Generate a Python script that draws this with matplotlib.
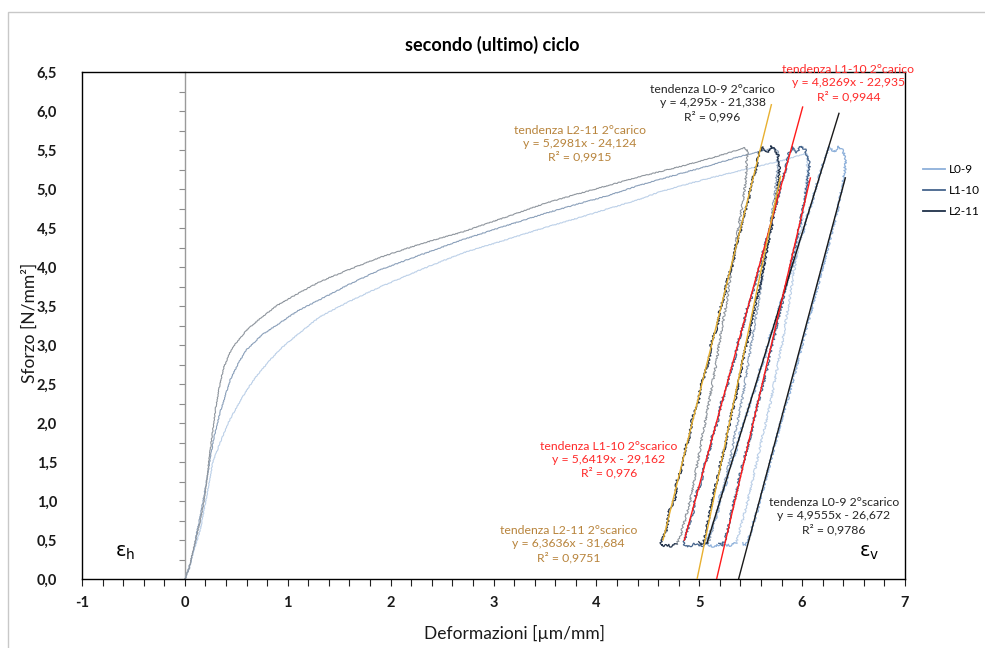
import numpy as np
import matplotlib
matplotlib.use("Agg")
import matplotlib.pyplot as plt
from matplotlib.ticker import MultipleLocator, FuncFormatter
from matplotlib.patches import Rectangle
from matplotlib.lines import Line2D

plt.rcParams['font.family'] = ['Lato', 'DejaVu Sans']
plt.rcParams['mathtext.fontset'] = 'dejavusans'

# ---------------- data ----------------
specimens = ["L0-9", "L1-10", "L2-11"]

# first loading (monotonic branch)
l2_load_x = [0.00, 0.03, 0.06, 0.09, 0.12, 0.15, 0.18, 0.21, 0.24, 0.27, 0.30, 0.34, 0.38, 0.44,
             0.50, 0.60, 0.75, 0.90, 1.10, 1.31, 1.60, 1.89, 2.30, 2.70, 3.10, 3.51, 3.80, 4.10,
             4.40, 4.61, 4.85, 5.10, 5.30, 5.44]
l2_load_y = [0.00, 0.10, 0.25, 0.42, 0.58, 0.75, 0.95, 1.25, 1.58, 1.90, 2.20, 2.50, 2.72, 2.91,
             3.03, 3.19, 3.36, 3.51, 3.66, 3.81, 3.97, 4.12, 4.30, 4.45, 4.63, 4.82, 4.93, 5.04,
             5.15, 5.22, 5.30, 5.39, 5.47, 5.53]
l1_load_x = [0.00, 0.04, 0.08, 0.12, 0.16, 0.20, 0.24, 0.28, 0.34, 0.44, 0.52, 0.60, 0.75, 0.92,
             1.10, 1.31, 1.60, 1.89, 2.30, 2.70, 3.10, 3.51, 3.80, 4.10, 4.40, 4.61, 4.85, 5.10,
             5.35, 5.55, 5.72]
l1_load_y = [0.00, 0.12, 0.35, 0.62, 0.88, 1.18, 1.49, 1.80, 2.13, 2.55, 2.77, 2.94, 3.13, 3.28,
             3.44, 3.58, 3.78, 3.96, 4.16, 4.35, 4.52, 4.69, 4.80, 4.91, 5.04, 5.12, 5.21, 5.30,
             5.40, 5.47, 5.52]
l0_load_x = [0.00, 0.05, 0.10, 0.15, 0.21, 0.27, 0.34, 0.42, 0.51, 0.60, 0.70, 0.83, 0.92, 1.10,
             1.31, 1.60, 1.89, 2.30, 2.70, 3.10, 3.51, 3.80, 4.10, 4.40, 4.61, 4.85, 5.10, 5.35,
             5.60, 5.85, 6.02]
l0_load_y = [0.00, 0.20, 0.42, 0.63, 1.05, 1.49, 1.74, 2.00, 2.22, 2.42, 2.61, 2.81, 2.94, 3.14,
             3.36, 3.56, 3.74, 3.97, 4.18, 4.34, 4.51, 4.62, 4.74, 4.86, 4.96, 5.05, 5.14, 5.22,
             5.30, 5.38, 5.45]

# first unloading
l2_unl1_x = [5.44, 5.47, 5.46, 5.45, 5.42, 5.38, 5.34, 5.30, 5.26, 5.21, 5.17, 5.12, 5.07, 5.02,
             4.97, 4.92, 4.86, 4.81, 4.78]
l2_unl1_y = [5.53, 5.50, 5.35, 5.10, 4.80, 4.50, 4.15, 3.85, 3.50, 3.15, 2.80, 2.45, 2.10, 1.75,
             1.40, 1.05, 0.75, 0.52, 0.45]
l1_unl1_x = [5.72, 5.76, 5.76, 5.74, 5.71, 5.67, 5.63, 5.58, 5.53, 5.48, 5.43, 5.37, 5.31, 5.24,
             5.17, 5.12, 5.09]
l1_unl1_y = [5.52, 5.50, 5.30, 5.00, 4.70, 4.35, 4.00, 3.60, 3.20, 2.80, 2.40, 2.00, 1.60, 1.20,
             0.85, 0.60, 0.46]
l0_unl1_x = [6.02, 6.05, 6.05, 6.03, 6.00, 5.96, 5.91, 5.86, 5.81, 5.75, 5.69, 5.62, 5.55, 5.48,
             5.41, 5.36]
l0_unl1_y = [5.45, 5.45, 5.25, 4.95, 4.60, 4.25, 3.85, 3.45, 3.05, 2.65, 2.25, 1.85, 1.45, 1.05,
             0.70, 0.46]

# second cycle (reloading + unloading)
l2_cyc2_x = [4.78, 4.73, 4.68, 4.64, 4.63,
             4.69, 4.70, 4.77, 4.78, 4.84, 4.86, 4.91, 4.93, 4.99, 5.01, 5.06, 5.10, 5.12, 5.18,
             5.20, 5.25, 5.27, 5.33, 5.35, 5.40, 5.43, 5.48, 5.50, 5.55, 5.58,
             5.62, 5.66, 5.70, 5.74, 5.77,
             5.78, 5.77, 5.75, 5.73, 5.70, 5.67, 5.64, 5.61, 5.58, 5.54, 5.51, 5.48, 5.44, 5.41,
             5.38, 5.35, 5.31, 5.28, 5.25, 5.21, 5.18, 5.14, 5.11, 5.08, 5.05,
             5.02, 4.99]
l2_cyc2_y = [0.45, 0.42, 0.44, 0.42, 0.47,
             0.65, 0.85, 1.05, 1.25, 1.45, 1.65, 1.85, 2.05, 2.25, 2.45, 2.65, 2.85, 3.05, 3.25,
             3.45, 3.65, 3.85, 4.05, 4.25, 4.45, 4.65, 4.85, 5.05, 5.25, 5.45,
             5.54, 5.47, 5.55, 5.49, 5.42,
             5.30, 5.10, 4.90, 4.70, 4.50, 4.30, 4.10, 3.90, 3.70, 3.50, 3.30, 3.10, 2.90, 2.70,
             2.50, 2.30, 2.10, 1.90, 1.70, 1.50, 1.30, 1.10, 0.90, 0.70, 0.50,
             0.44, 0.47]
l1_cyc2_x = [5.09, 5.03, 4.96, 4.90, 4.85,
             4.89, 4.94, 4.96, 5.02, 5.05, 5.10, 5.13, 5.19, 5.21, 5.27, 5.30, 5.35, 5.38, 5.43,
             5.46, 5.52, 5.55, 5.60, 5.63, 5.68, 5.71, 5.76, 5.79, 5.84, 5.87,
             5.91, 5.95, 5.99, 6.03, 6.06,
             6.07, 6.05, 6.03, 6.00, 5.97, 5.94, 5.90, 5.87, 5.83, 5.80, 5.76, 5.73, 5.69, 5.66,
             5.62, 5.58, 5.54, 5.51, 5.47, 5.43, 5.39, 5.36, 5.32, 5.29, 5.25,
             5.22, 5.19]
l1_cyc2_y = [0.46, 0.43, 0.45, 0.42, 0.45,
             0.65, 0.85, 1.05, 1.25, 1.45, 1.65, 1.85, 2.05, 2.25, 2.45, 2.65, 2.85, 3.05, 3.25,
             3.45, 3.65, 3.85, 4.05, 4.25, 4.45, 4.65, 4.85, 5.05, 5.25, 5.45,
             5.54, 5.47, 5.55, 5.50, 5.40,
             5.30, 5.10, 4.90, 4.70, 4.50, 4.30, 4.10, 3.90, 3.70, 3.50, 3.30, 3.10, 2.90, 2.70,
             2.50, 2.30, 2.10, 1.90, 1.70, 1.50, 1.30, 1.10, 0.90, 0.70, 0.50,
             0.43, 0.46]
l0_cyc2_x = [5.36, 5.29, 5.21, 5.13, 5.07,
             5.12, 5.18, 5.20, 5.27, 5.30, 5.36, 5.39, 5.45, 5.49, 5.55, 5.58, 5.64, 5.67, 5.73,
             5.77, 5.82, 5.86, 5.92, 5.95, 6.01, 6.05, 6.10, 6.14, 6.19, 6.23,
             6.27, 6.31, 6.35, 6.39, 6.42,
             6.42, 6.40, 6.37, 6.34, 6.30, 6.26, 6.22, 6.18, 6.14, 6.10, 6.06, 6.02, 5.98, 5.94,
             5.90, 5.86, 5.81, 5.77, 5.73, 5.69, 5.65, 5.61, 5.57, 5.52, 5.48,
             5.45, 5.42]
l0_cyc2_y = [0.46, 0.43, 0.45, 0.42, 0.45,
             0.65, 0.85, 1.05, 1.25, 1.45, 1.65, 1.85, 2.05, 2.25, 2.45, 2.65, 2.85, 3.05, 3.25,
             3.45, 3.65, 3.85, 4.05, 4.25, 4.45, 4.65, 4.85, 5.05, 5.25, 5.45,
             5.54, 5.47, 5.55, 5.50, 5.40,
             5.30, 5.10, 4.90, 4.70, 4.50, 4.30, 4.10, 3.90, 3.70, 3.50, 3.30, 3.10, 2.90, 2.70,
             2.50, 2.30, 2.10, 1.90, 1.70, 1.50, 1.30, 1.10, 0.90, 0.70, 0.50,
             0.43, 0.46]

# linear trendlines (order: L0-9, L1-10, L2-11)
carico_slope = [4.295, 4.8269, 5.2981]
carico_icpt = [-21.338, -22.935, -24.124]
carico_r2 = [0.996, 0.9944, 0.9915]
carico_xrange = [(5.075, 6.358), (4.855, 6.005), (4.648, 5.701)]
scarico_slope = [4.9555, 5.6419, 6.3636]
scarico_icpt = [-26.672, -29.162, -31.684]
scarico_r2 = [0.9786, 0.976, 0.9751]
scarico_xrange = [(5.382, 6.42), (5.169, 6.08), (4.979, 5.79)]

# ---------------- style ----------------
first_colors = ["#bcd0e8", "#8ba0ba", "#8f969e"]
second_colors = ["#8db0da", "#45648c", "#1f3049"]
trend_colors = ["#1a1a1a", "#ff1a1a", "#e8b030"]
label_colors = ["#262626", "#ff2a2a", "#b8843c"]
carico_label_pos = [(5.13, 6.10), (6.45, 6.36), (3.84, 5.58)]
scarico_label_pos = [(6.31, 0.81), (4.12, 1.53), (3.73, 0.45)]


def comma(v, fmt="{}"):
    return fmt.format(v).replace(".", ",")


W, H = 985, 648
fig = plt.figure(figsize=(W / 100, H / 100), dpi=100)
fig.patches.append(Rectangle((8 / W, -0.05), 1.2, 1 - 12 / H + 0.05, transform=fig.transFigure,
                             fill=False, ec="#c8c8c8", lw=1.0))

ax = fig.add_axes([82 / W, 1 - 579 / H, (905 - 82) / W, (579 - 72) / H])
xmin, xmax, ymin, ymax = -1, 7, 0, 6.5
ax.set_xlim(xmin, xmax)
ax.set_ylim(ymin, ymax)

loads = [(l0_load_x, l0_load_y), (l1_load_x, l1_load_y), (l2_load_x, l2_load_y)]
unl1 = [(l0_unl1_x, l0_unl1_y), (l1_unl1_x, l1_unl1_y), (l2_unl1_x, l2_unl1_y)]
cyc2 = [(l0_cyc2_x, l0_cyc2_y), (l1_cyc2_x, l1_cyc2_y), (l2_cyc2_x, l2_cyc2_y)]

for i in range(3):
    ln, = ax.plot(loads[i][0], loads[i][1], color=first_colors[i], lw=0.8, zorder=2)
    ln.set_sketch_params(scale=0.4, length=3, randomness=3)
    ln, = ax.plot(unl1[i][0], unl1[i][1], color=first_colors[i], lw=0.8, zorder=2)
    ln.set_sketch_params(scale=1.1, length=3, randomness=4)

legend_handles = []
for i in range(3):
    ln, = ax.plot(cyc2[i][0], cyc2[i][1], color=second_colors[i], lw=0.9, zorder=3)
    ln.set_sketch_params(scale=1.2, length=3, randomness=4)
    legend_handles.append(Line2D([], [], color=second_colors[i], lw=1.3))

# trendlines and their equations
for i in range(3):
    for slope, icpt, r2, xr, pos, kind in (
            (carico_slope[i], carico_icpt[i], carico_r2[i], carico_xrange[i], carico_label_pos[i], "carico"),
            (scarico_slope[i], scarico_icpt[i], scarico_r2[i], scarico_xrange[i], scarico_label_pos[i], "scarico")):
        xs = np.array(xr)
        ax.plot(xs, slope * xs + icpt, color=trend_colors[i], lw=1.0, zorder=4)
        txt = (f"tendenza {specimens[i]} 2°{kind}\n"
               f"y = {comma(slope)}x - {comma(abs(icpt))}\n"
               f"R² = {comma(r2)}")
        ax.text(pos[0], pos[1], txt, color=label_colors[i], fontsize=8.8, ha="center",
                va="center", linespacing=1.25, zorder=5, clip_on=False)

ax.text(-0.58, 0.33, r"$\mathrm{\varepsilon}_{\mathrm{h}}$", fontsize=14, ha="center", va="center")
ax.text(6.65, 0.33, r"$\mathrm{\varepsilon}_{\mathrm{v}}$", fontsize=14, ha="center", va="center")

# axes, ticks
for s in ax.spines.values():
    s.set_color("#000000")
    s.set_linewidth(1.0)
ax.xaxis.set_major_locator(MultipleLocator(1))
ax.xaxis.set_minor_locator(MultipleLocator(0.2))
ax.yaxis.set_major_locator(MultipleLocator(0.5))
ax.xaxis.set_major_formatter(FuncFormatter(lambda v, p: comma(int(round(v)))))
ax.yaxis.set_major_formatter(FuncFormatter(lambda v, p: comma(v, "{:.1f}")))
ax.tick_params(axis="x", which="both", direction="out", length=5, width=0.8, color="#202020",
               pad=7, labelsize=10.5, labelcolor="#1a1a1a")
ax.tick_params(axis="y", which="both", length=0, pad=18, labelsize=10.5, labelcolor="#1a1a1a")

sec = ax.secondary_yaxis((0 - xmin) / (xmax - xmin))
sec.yaxis.set_major_locator(MultipleLocator(0.25))
sec.tick_params(axis="y", direction="out", length=4, width=0.8, color="#8c8c8c",
                labelleft=False, labelright=False)
for s in sec.spines.values():
    s.set_color("#9a9a9a")
    s.set_linewidth(1.0)

plt.setp(ax.get_xticklabels(), fontweight="bold")
plt.setp(ax.get_yticklabels(), fontweight="bold")

fig.text(0.5, 1 - 45 / H, "secondo (ultimo) ciclo", ha="center", va="center",
         fontsize=13, fontweight="bold", color="#000000")
fig.text(515 / W, 1 - 633 / H, "Deformazioni [µm/mm]", ha="center", va="center",
         fontsize=12.5, color="#1a1a1a")
fig.text(30 / W, 1 - 323 / H, "Sforzo [N/mm²]", ha="center", va="center", rotation=90,
         fontsize=12.5, color="#1a1a1a")

fig.legend(legend_handles, specimens, loc="upper left", bbox_to_anchor=(923 / W, 1 - 164 / H),
           frameon=False, fontsize=8.5, handlelength=1.9, labelspacing=0.85, handletextpad=0.3,
           borderaxespad=0, borderpad=0)

fig.savefig("out.png", dpi=100)
